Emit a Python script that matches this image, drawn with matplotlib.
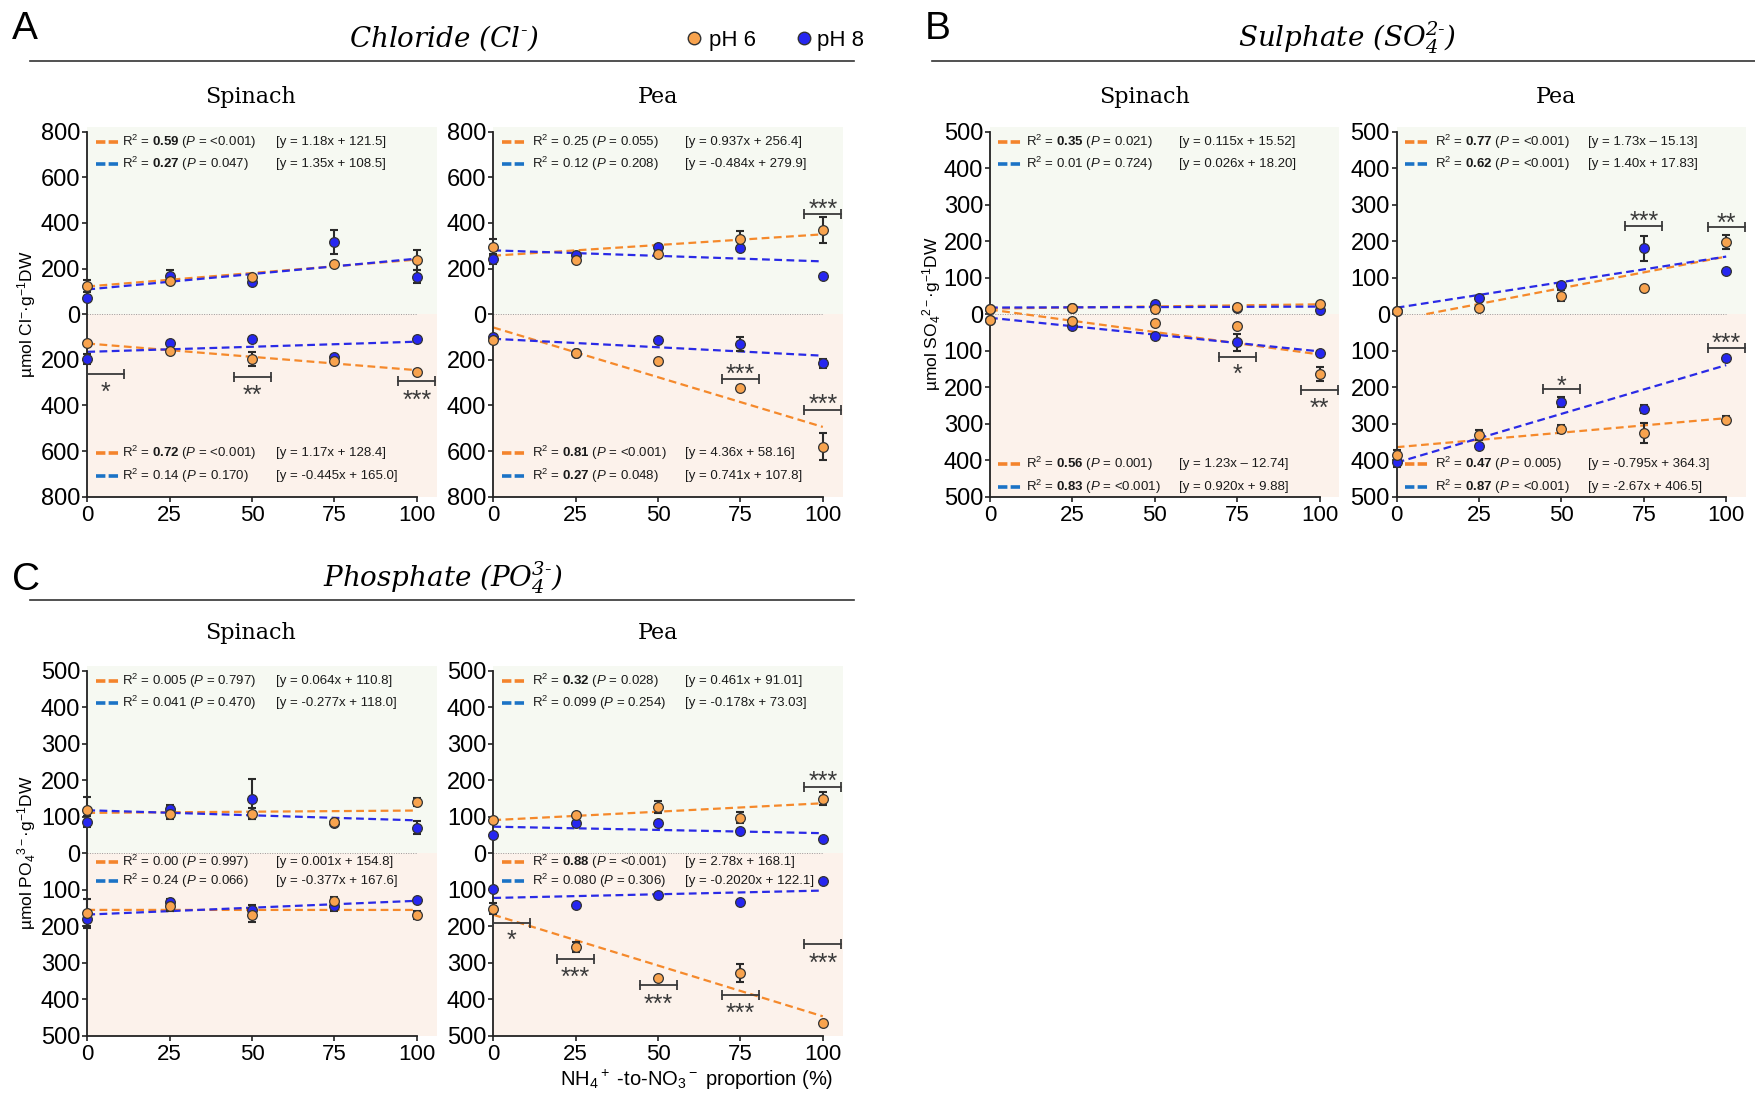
import numpy as np
import matplotlib
matplotlib.use("Agg")
import matplotlib.pyplot as plt
from matplotlib.lines import Line2D

plt.rcParams['font.family'] = ['Liberation Sans', 'DejaVu Sans']
plt.rcParams['mathtext.fontset'] = 'custom'
plt.rcParams['mathtext.rm'] = 'Liberation Sans'
plt.rcParams['mathtext.it'] = 'Liberation Sans:italic'
plt.rcParams['mathtext.bf'] = 'Liberation Sans:bold'
plt.rcParams['mathtext.sf'] = 'DejaVu Serif:italic'

# ---------------- data ----------------
x_levels = [0, 25, 50, 75, 100]
x_tick_labels = ['0', '25', '50', '75', '100']
species = ['Spinach', 'Pea']
legend_labels = ['pH 6', 'pH 8']

# Chloride - Spinach
cl_sp_shoot_ph6 = [124, 146, 161, 218, 237]; cl_sp_shoot_ph6_err = [28, 8, 8, 8, 45]
cl_sp_shoot_ph8 = [69, 168, 139, 317, 164];  cl_sp_shoot_ph8_err = [10, 25, 8, 54, 28]
cl_sp_root_ph6 = [128, 161, 197, 204, 254];  cl_sp_root_ph6_err = [8, 8, 31, 10, 8]
cl_sp_root_ph8 = [196, 126, 110, 187, 107];  cl_sp_root_ph8_err = [22, 8, 8, 10, 8]
# Chloride - Pea
cl_pe_shoot_ph6 = [295, 239, 266, 328, 368]; cl_pe_shoot_ph6_err = [36, 8, 8, 36, 56]
cl_pe_shoot_ph8 = [244, 261, 295, 292, 168]; cl_pe_shoot_ph8_err = [22, 8, 8, 8, 8]
cl_pe_root_ph6 = [111, 172, 207, 323, 581];  cl_pe_root_ph6_err = [8, 8, 8, 8, 60]
cl_pe_root_ph8 = [102, 168, 111, 131, 216];  cl_pe_root_ph8_err = [8, 8, 8, 32, 20]
# Sulphate - Spinach
so_sp_shoot_ph6 = [15, 18, 14, 19, 29];      so_sp_shoot_ph6_err = [3, 3, 3, 3, 3]
so_sp_shoot_ph8 = [13, 16, 29, 17, 12];      so_sp_shoot_ph8_err = [3, 3, 3, 3, 3]
so_sp_root_ph6 = [15, 18, 24, 33, 164];      so_sp_root_ph6_err = [3, 3, 3, 3, 20]
so_sp_root_ph8 = [15, 33, 59, 77, 107];      so_sp_root_ph8_err = [3, 3, 3, 23, 5]
# Sulphate - Pea
so_pe_shoot_ph6 = [8, 18, 51, 73, 198];      so_pe_shoot_ph6_err = [3, 3, 14, 3, 19]
so_pe_shoot_ph8 = [8, 44, 81, 180, 118];     so_pe_shoot_ph8_err = [3, 3, 3, 33, 3]
so_pe_root_ph6 = [386, 332, 314, 326, 289];  so_pe_root_ph6_err = [14, 14, 11, 28, 9]
so_pe_root_ph8 = [406, 360, 241, 261, 120];  so_pe_root_ph8_err = [14, 5, 14, 11, 5]
# Phosphate - Spinach
po_sp_shoot_ph6 = [120, 109, 109, 85, 141];  po_sp_shoot_ph6_err = [35, 14, 14, 4, 11]
po_sp_shoot_ph8 = [87, 122, 149, 84, 70];    po_sp_shoot_ph8_err = [14, 10, 55, 4, 18]
po_sp_root_ph6 = [162, 143, 169, 131, 170];  po_sp_root_ph6_err = [36, 14, 20, 12, 11]
po_sp_root_ph8 = [181, 134, 155, 143, 129];  po_sp_root_ph8_err = [22, 8, 14, 14, 5]
# Phosphate - Pea
po_pe_shoot_ph6 = [90, 104, 126, 98, 150];   po_pe_shoot_ph6_err = [4, 4, 16, 14, 18]
po_pe_shoot_ph8 = [50, 83, 83, 61, 39];      po_pe_shoot_ph8_err = [3, 3, 3, 3, 3]
po_pe_root_ph6 = [151, 257, 342, 328, 465];  po_pe_root_ph6_err = [14, 14, 4, 24, 4]
po_pe_root_ph8 = [98, 142, 115, 133, 77];    po_pe_root_ph8_err = [3, 3, 3, 3, 3]

# regression (slope, intercept) order: shoot pH6, shoot pH8, root pH6, root pH8
cl_sp_fit = [(1.18, 121.5), (1.35, 108.5), (1.17, 128.4), (-0.445, 165.0)]
cl_pe_fit = [(0.937, 256.4), (-0.484, 279.9), (4.36, 58.16), (0.741, 107.8)]
so_sp_fit = [(0.115, 15.52), (0.026, 18.20), (1.23, -12.74), (0.920, 9.88)]
so_pe_fit = [(1.73, -15.13), (1.40, 17.83), (-0.795, 364.3), (-2.67, 406.5)]
po_sp_fit = [(0.064, 110.8), (-0.277, 118.0), (0.001, 154.8), (-0.377, 167.6)]
po_pe_fit = [(0.461, 91.01), (-0.178, 73.03), (2.78, 168.1), (-0.2020, 122.1)]

# statistics text: (R2, P, bold, equation)
cl_sp_stats = [('0.59', '<0.001', True, '[y = 1.18x + 121.5]'), ('0.27', '0.047', True, '[y = 1.35x + 108.5]'),
               ('0.72', '<0.001', True, '[y = 1.17x + 128.4]'), ('0.14', '0.170', False, '[y = -0.445x + 165.0]')]
cl_pe_stats = [('0.25', '0.055', False, '[y = 0.937x + 256.4]'), ('0.12', '0.208', False, '[y = -0.484x + 279.9]'),
               ('0.81', '<0.001', True, '[y = 4.36x + 58.16]'), ('0.27', '0.048', True, '[y = 0.741x + 107.8]')]
so_sp_stats = [('0.35', '0.021', True, '[y = 0.115x + 15.52]'), ('0.01', '0.724', False, '[y = 0.026x + 18.20]'),
               ('0.56', '0.001', True, '[y = 1.23x \u2013 12.74]'), ('0.83', '<0.001', True, '[y = 0.920x + 9.88]')]
so_pe_stats = [('0.77', '<0.001', True, '[y = 1.73x \u2013 15.13]'), ('0.62', '<0.001', True, '[y = 1.40x + 17.83]'),
               ('0.47', '0.005', True, '[y = -0.795x + 364.3]'), ('0.87', '<0.001', True, '[y = -2.67x + 406.5]')]
po_sp_stats = [('0.005', '0.797', False, '[y = 0.064x + 110.8]'), ('0.041', '0.470', False, '[y = -0.277x + 118.0]'),
               ('0.00', '0.997', False, '[y = 0.001x + 154.8]'), ('0.24', '0.066', False, '[y = -0.377x + 167.6]')]
po_pe_stats = [('0.32', '0.028', True, '[y = 0.461x + 91.01]'), ('0.099', '0.254', False, '[y = -0.178x + 73.03]'),
               ('0.88', '<0.001', True, '[y = 2.78x + 168.1]'), ('0.080', '0.306', False, '[y = -0.2020x + 122.1]')]

# significance marks: (x_left, x_right, bracket_y, text_y, text)  (root values negative)
cl_sp_sig = [(0, 11.2, -260, -311, '*'), (44.4, 55.6, -274, -326, '**'), (94.4, 105.6, -293, -347, '***')]
cl_pe_sig = [(94.4, 105.6, 438, 492, '***'), (69.4, 80.6, -286, -234, '***'), (94.4, 105.6, -420, -365, '***')]
so_sp_sig = [(69.5, 80.6, -118, -146, '*'), (94.4, 105.6, -208, -238, '**')]
so_pe_sig = [(69.4, 80.6, 242, 274, '***'), (94.4, 105.6, 240, 269, '**'),
             (44.4, 55.6, -206, -178, '*'), (94.4, 105.6, -93, -61, '***')]
po_sp_sig = []
po_pe_sig = [(94.4, 105.6, 183, 216, '***'), (0, 11.2, -191, -218, '*'), (19.4, 30.6, -289, -321, '***'),
             (44.4, 55.6, -360, -393, '***'), (69.4, 80.6, -387, -420, '***'), (94.4, 105.6, -248, -281, '***')]

# ---------------- styling ----------------
W, H = 1755, 1097
C6_FACE = '#F8A34E'
C8_FACE = '#2626F0'
C6_LINE = '#F5892B'
C8_LINE = '#2A2AE6'
C6_KEY = '#F4842C'
C8_KEY = '#1B73C6'
BG_TOP = '#F6F9F2'
BG_BOT = '#FCF2EB'
DARK = '#2a2a2a'

fig = plt.figure(figsize=(W / 100, H / 100), dpi=100)


def fpos(x, y):
    return x / W, 1 - y / H


def make_axes(x0, top_tick, bot_tick, Y):
    xmax = 106
    sx = 3.295
    height = (bot_tick - top_tick) * (2.025 / 2)
    ax = fig.add_axes([x0 / W, 1 - bot_tick / H, xmax * sx / W, height / H])
    ax.set_xlim(0, xmax)
    ax.set_ylim(-Y, Y * 1.025)
    ax.patch.set_alpha(0)
    return ax


def draw_panel(ax, Y, step, shoot, root, fits, stats, sig, layout):
    ax.axhspan(0, Y * 1.025, color=BG_TOP, zorder=0, lw=0)
    ax.axhspan(-Y, 0, color=BG_BOT, zorder=0, lw=0)
    ax.plot([0, 100], [0, 0], ls=(0, (1, 1.5)), color='#9a9a9a', lw=0.7, zorder=1)
    for s in ['top', 'right']:
        ax.spines[s].set_visible(False)
    for s in ['left', 'bottom']:
        ax.spines[s].set_linewidth(1.3)
        ax.spines[s].set_color('#222222')
    ax.spines['left'].set_bounds(-Y, Y)
    ax.spines['bottom'].set_bounds(0, 100)
    yt = np.arange(-Y, Y + 1, step)
    ax.set_yticks(yt)
    ax.set_yticklabels([str(abs(int(v))) for v in yt])
    ax.set_xticks(x_levels)
    ax.set_xticklabels(x_tick_labels)
    ax.tick_params(axis='y', labelsize=17, length=3.5, width=1.2, pad=1.5, color='#222222')
    ax.tick_params(axis='x', labelsize=16, length=3.5, width=1.2, pad=2.5, color='#222222')

    xs = np.linspace(0, 100, 201)
    cols = [C6_LINE, C8_LINE, C6_LINE, C8_LINE]
    for i, (m, b) in enumerate(fits):
        ys = m * xs + b
        if i < 2:
            mask = ys >= 0
            ax.plot(xs[mask], ys[mask], color=cols[i], lw=1.6, ls=(0, (3.5, 2.0)), zorder=2)
        else:
            ax.plot(xs, -ys, color=cols[i], lw=1.6, ls=(0, (3.5, 2.0)), zorder=2)

    series = [(shoot[1], 1, C8_FACE, 4), (root[1], -1, C8_FACE, 4),
              (shoot[0], 1, C6_FACE, 5), (root[0], -1, C6_FACE, 5)]
    for (vals, err), sign, face, z in series:
        v = sign * np.array(vals, dtype=float)
        ax.errorbar(x_levels, v, yerr=err, fmt='none', ecolor=DARK, elinewidth=1.5,
                    capsize=3.2, capthick=1.5, zorder=3, clip_on=False)
        ax.plot(x_levels, v, 'o', ms=7, mfc=face, mec='#333333', mew=0.9, zorder=z, clip_on=False)

    rows = layout['rows']
    keycols = [C6_KEY, C8_KEY, C6_KEY, C8_KEY]
    for i, (r2, p, bold, eq) in enumerate(stats):
        y = rows[i]
        ax.plot([2.5, 9.8], [y, y], color=keycols[i], lw=2.6, ls=(0, (2.6, 0.9)),
                solid_capstyle='butt', dash_capstyle='butt', zorder=6)
        rtxt = r'$\mathbf{' + r2 + '}$' if bold else r2
        label = r'R$^2$ = ' + rtxt + r' ($\mathit{P}$ = ' + p + ')'
        ax.text(layout['tx'], y, label, fontsize=9.5, va='center', ha='left', color='#1a1a1a', zorder=6)
        ax.text(layout['ex'], y, eq, fontsize=9.5, va='center', ha='left', color='#1a1a1a', zorder=6)

    for xl, xr, yb, yt_, txt in sig:
        ax.plot([xl, xr], [yb, yb], color='#3a3a3a', lw=1.3, zorder=6, clip_on=False)
        ax.plot([xl, xr], [yb, yb], ls='none', marker='|', ms=7, mew=1.3, color='#3a3a3a',
                zorder=6, clip_on=False)
        ax.annotate(txt, xy=((xl + xr) / 2, yt_), xytext=(0, -10.5), textcoords='offset points',
                    ha='center', va='baseline', fontsize=18, color='#3a3a3a', zorder=6,
                    annotation_clip=False)


rowsA = [756, 657, -608, -709]
rowsB = [472.6, 410.7, -411, -474]
rowsC = [472.6, 410.7, -24.7, -76.7]

panel_specs = [
    (87.3, 131.7, 496.7, 800, 200, (cl_sp_shoot_ph6, cl_sp_shoot_ph6_err), (cl_sp_shoot_ph8, cl_sp_shoot_ph8_err),
     (cl_sp_root_ph6, cl_sp_root_ph6_err), (cl_sp_root_ph8, cl_sp_root_ph8_err), cl_sp_fit, cl_sp_stats, cl_sp_sig,
     dict(rows=rowsA, tx=10.5, ex=57.4)),
    (493.3, 131.7, 496.7, 800, 200, (cl_pe_shoot_ph6, cl_pe_shoot_ph6_err), (cl_pe_shoot_ph8, cl_pe_shoot_ph8_err),
     (cl_pe_root_ph6, cl_pe_root_ph6_err), (cl_pe_root_ph8, cl_pe_root_ph8_err), cl_pe_fit, cl_pe_stats, cl_pe_sig,
     dict(rows=rowsA, tx=11.6, ex=58.1)),
    (990.0, 131.7, 496.7, 500, 100, (so_sp_shoot_ph6, so_sp_shoot_ph6_err), (so_sp_shoot_ph8, so_sp_shoot_ph8_err),
     (so_sp_root_ph6, so_sp_root_ph6_err), (so_sp_root_ph8, so_sp_root_ph8_err), so_sp_fit, so_sp_stats, so_sp_sig,
     dict(rows=rowsB, tx=10.8, ex=57.4)),
    (1396.7, 131.7, 496.7, 500, 100, (so_pe_shoot_ph6, so_pe_shoot_ph6_err), (so_pe_shoot_ph8, so_pe_shoot_ph8_err),
     (so_pe_root_ph6, so_pe_root_ph6_err), (so_pe_root_ph8, so_pe_root_ph8_err), so_pe_fit, so_pe_stats, so_pe_sig,
     dict(rows=rowsB, tx=11.6, ex=58.2)),
    (87.3, 670.7, 1036.0, 500, 100, (po_sp_shoot_ph6, po_sp_shoot_ph6_err), (po_sp_shoot_ph8, po_sp_shoot_ph8_err),
     (po_sp_root_ph6, po_sp_root_ph6_err), (po_sp_root_ph8, po_sp_root_ph8_err), po_sp_fit, po_sp_stats, po_sp_sig,
     dict(rows=rowsC, tx=10.4, ex=57.3)),
    (493.3, 670.7, 1036.0, 500, 100, (po_pe_shoot_ph6, po_pe_shoot_ph6_err), (po_pe_shoot_ph8, po_pe_shoot_ph8_err),
     (po_pe_root_ph6, po_pe_root_ph6_err), (po_pe_root_ph8, po_pe_root_ph8_err), po_pe_fit, po_pe_stats, po_pe_sig,
     dict(rows=rowsC, tx=11.6, ex=58.1)),
]

for (x0, tt, bt, Y, step, s6, s8, r6, r8, fits, stats, sig, layout) in panel_specs:
    ax = make_axes(x0, tt, bt, Y)
    draw_panel(ax, Y, step, (s6, s8), (r6, r8), fits, stats, sig, layout)

# ---------------- figure-level text ----------------
serif = ['DejaVu Serif']
for letter, (x, y) in zip(['A', 'B', 'C'], [(12, 39), (925, 39), (12, 590)]):
    fig.text(*fpos(x, y), letter, fontsize=28, ha='left', va='baseline')

titles = [('Chloride (Cl$^{\\mathsf{\u2010}}$)', 444, 47),
          ('Sulphate (SO$_{\\mathsf{4}}^{\\mathsf{2\u2010}}$)', 1347, 47),
          ('Phosphate (PO$_{\\mathsf{4}}^{\\mathsf{3\u2010}}$)', 443, 587)]
for t, x, y in titles:
    fig.text(*fpos(x, y), t, fontsize=20, family=serif, style='italic', ha='center', va='baseline')

for (xa, xb, y) in [(30, 854, 61), (932, 1755, 61), (30, 854, 600)]:
    fig.add_artist(Line2D([xa / W, xb / W], [1 - y / H, 1 - y / H], color='#333333', lw=1.2,
                          transform=fig.transFigure))

for name, x, y in [(species[0], 250.5, 103), (species[1], 658.3, 103), (species[0], 1144.5, 103),
                   (species[1], 1556.0, 103), (species[0], 250.5, 639), (species[1], 658.3, 639)]:
    fig.text(*fpos(x, y), name, fontsize=16, family=serif, ha='center', va='baseline')

# legend
for (cx, tx, face, lab) in [(694, 709, C6_FACE, legend_labels[0]), (804, 817, C8_FACE, legend_labels[1])]:
    fig.add_artist(Line2D([cx / W], [1 - 38 / H], marker='o', ms=9, mfc=face, mec='#333333', mew=1.0,
                          ls='none', transform=fig.transFigure))
    fig.text(*fpos(tx, 38), lab, fontsize=16, ha='left', va='center_baseline')

# y labels
ylabels = [('µmol Cl$^{-}$·g$^{-1}$DW', 27, 314), ('µmol SO$_4$$^{2-}$·g$^{-1}$DW', 932, 314),
           ('µmol PO$_4$$^{3-}$·g$^{-1}$DW', 27, 853)]
for t, x, y in ylabels:
    fig.text(*fpos(x, y), t, fontsize=12.5, rotation=90, ha='center', va='center')

fig.text(*fpos(697, 1086), 'NH$_4$$^+$ -to-NO$_3$$^-$ proportion (%)', fontsize=14.5, ha='center', va='baseline')

fig.savefig('out.png', dpi=100)
